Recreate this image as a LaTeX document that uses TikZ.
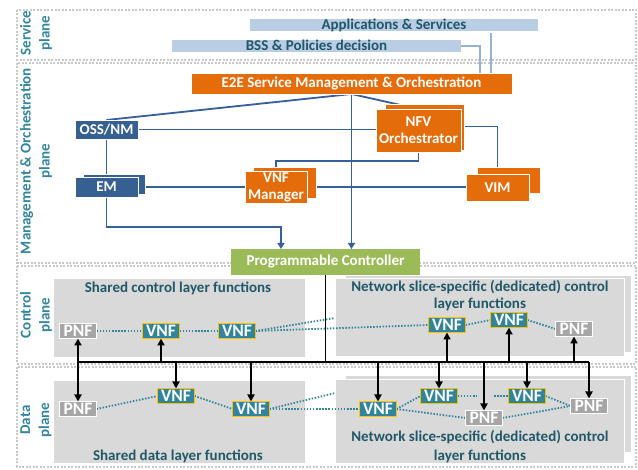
\documentclass[tikz,border=0pt]{standalone}
\usepackage{fontspec}
\setmainfont{Carlito}
\usetikzlibrary{arrows.meta,calc}
\definecolor{lblue}{HTML}{B9CDE5}
\definecolor{orng}{HTML}{E46C0A}
\definecolor{dblue}{HTML}{376092}
\definecolor{mline}{HTML}{36609C}
\definecolor{sline}{HTML}{95B3D7}
\definecolor{grn}{HTML}{9BBB59}
\definecolor{gbox}{HTML}{D9D9D9}
\definecolor{ttxt}{HTML}{215868}
\definecolor{plab}{HTML}{31859C}
\definecolor{vnff}{HTML}{31849B}
\definecolor{gold}{HTML}{FFC000}
\definecolor{pnff}{HTML}{A6A6A6}
\definecolor{frm}{HTML}{C8C8C8}
\pgfdeclarelayer{back}
\pgfdeclarelayer{mid}
\pgfsetlayers{back,mid,main}
\newcommand\bx[7]{\node[#6,minimum width={(#4-#2)*1pt},minimum height={(#5-#3)*1pt}] (#1) at ({(#2+#4)/2},{(#3+#5)/2}) {#7};}
\begin{document}
\begin{tikzpicture}[x=1pt,y=-1pt,
  every node/.style={inner sep=0pt,outer sep=0pt,font=\bfseries\fontsize{15}{18}\selectfont},
  bar/.style={fill=lblue,text=ttxt,text height=10.5pt,text depth=1.5pt},
  orb/.style={fill=orng,draw=white,line width=0.8pt,text=white,align=center,font=\bfseries\fontsize{15}{17}\selectfont},
  dbb/.style={fill=dblue,draw=white,line width=0.8pt,text=white},
  grb/.style={fill=grn,text=white},
  gry/.style={fill=gbox,draw=white,line width=0.8pt},
  fn/.style={minimum width=37pt,minimum height=15pt,line width=1.5pt,text=white,font=\bfseries\fontsize{17.5}{17.5}\selectfont},
  vnf/.style={fn,fill=vnff,draw=gold},
  pnf/.style={fn,fill=pnff,draw=white},
  ml/.style={draw=mline,line width=1.8pt},
  sl/.style={draw=sline,line width=1.4pt},
  bk/.style={draw=black,line width=1.8pt},
  tip/.style={-{Triangle[width=7pt,length=7pt]}},
  btip/.style={-{Triangle[width=7pt,length=6pt]}},
  dl/.style={draw=vnff,line width=1.8pt,dash pattern=on 1.5pt off 1.6pt},
  frame/.style={draw=frm,line width=2pt,dash pattern=on 2pt off 1.5pt},
  ttl/.style={text=ttxt,align=center,font=\bfseries\fontsize{15}{18}\selectfont},
  plane/.style={text=plab,rotate=90,align=center,font=\bfseries\fontsize{15}{19}\selectfont}]
\useasboundingbox (0,0) rectangle (638,470);

\begin{pgfonlayer}{back}
\fill[white] (0,0) rectangle (638,470);
\draw[frame] (17,10) rectangle (636,60);
\draw[frame] (17,63) rectangle (636,263);
\draw[frame] (17,266) rectangle (636,364);
\draw[frame] (17,367) rectangle (636,467);
\bx{sc}{53}{278}{305}{357}{gry}{}
\bx{rcb}{345}{275}{631}{352}{gry}{}
\bx{rc}{335}{278}{624}{356}{gry}{}
\bx{sd}{53}{380}{305}{463}{gry}{}
\bx{rdb}{345}{375}{631}{452}{gry}{}
\bx{rd}{335}{379}{624}{463}{gry}{}
\node[ttl] (tsc) at (178,288) {Shared control layer functions};
\node[ttl,font=\bfseries\fontsize{15}{17}\selectfont] (trc) at (480,296) {Network slice-specific (dedicated) control\\layer functions};
\node[ttl] (tsd) at (178,456) {Shared data layer functions};
\node[ttl,font=\bfseries\fontsize{15}{19}\selectfont] (trd) at (480,447) {Network slice-specific (dedicated) control\\layer functions};
\end{pgfonlayer}

\node[plane] (lsv) at (36,33) {Service\\plane};
\node[plane] (lmo) at (36,161) {Management \& Orchestration\\plane};
\node[plane] (lcp) at (36,315) {Control\\plane};
\node[plane] (ldp) at (36,420) {Data\\plane};

% service plane
\bx{apps}{250}{19}{538}{31}{bar}{Applications \& Services}
\bx{bss}{172}{40}{461}{52}{bar}{BSS \& Policies decision}

% management plane
\bx{e2e}{191}{73}{512}{94}{orb}{E2E Service Management \& Orchestration}
\bx{oss}{75}{120}{138}{139}{dbb}{OSS/NM}
\bx{emb}{83}{174}{145}{194}{dbb}{}
\bx{em}{75}{177}{138}{197}{dbb}{EM}
\bx{vnfmb}{253}{167}{316}{198}{orb}{}
\bx{vnfm}{245}{171}{307}{203}{orb}{VNF\\Manager}
\bx{nfvb}{385}{104}{464}{150}{orb}{}
\bx{nfv}{376}{109}{461}{152}{orb}{NFV\\Orchestrator}
\bx{vimb}{477}{167}{540}{193}{orb}{}
\bx{vim}{466}{174}{529}{201}{orb}{VIM}
\bx{pc}{231}{249}{420}{275}{grb}{Programmable Controller}

% control plane functions
\node[pnf] (pnfc1) at (78,331) {PNF};
\node[vnf] (vnfc1) at (161,331) {VNF};
\node[vnf] (vnfc2) at (237,331) {VNF};
\node[vnf] (vnfc3) at (447,325) {VNF};
\node[vnf] (vnfc4) at (509,320) {VNF};
\node[pnf] (pnfc2) at (574,329) {PNF};
% data plane functions
\node[pnf] (pnfd1) at (78,409) {PNF};
\node[vnf] (vnfd1) at (176,396) {VNF};
\node[vnf] (vnfd2) at (251,409) {VNF};
\node[vnf] (vnfd3) at (378,409) {VNF};
\node[vnf] (vnfd4) at (439,396) {VNF};
\node[pnf] (pnfd2) at (484,418) {PNF};
\node[vnf] (vnfd5) at (527,396) {VNF};
\node[pnf] (pnfd3) at (589,406) {PNF};

\coordinate (cend) at (335,318);
\coordinate (dend) at (335,393);
\coordinate (g1) at (477,396);
\coordinate (g2) at (494,396);
\coordinate (emc) at (281,227);
\coordinate (busL) at (78,362);
\coordinate (busR) at (589,362);

\begin{pgfonlayer}{mid}
% service connectors
\draw[sl] (bss.east) -| ($(e2e.north)+(128.5,0)$);
\draw[sl] ($(apps.south)+(97,2)$) -- ($(e2e.north)+(139.5,0)$);
% management connectors
\draw[ml] (e2e.south) -- (oss.north);
\draw[ml] (e2e.south) -- (nfv.north);
\draw[ml,btip] (e2e.south) -- (e2e.south |- pc.north);
\draw[ml] (oss.east) -- (nfv.west |- oss.east);
\draw[ml] (oss.south) -- (em.north);
\draw[ml] (em.east) -- (vnfm.west |- em.east);
\draw[ml] (vnfm.east) -- (vim.west |- vnfm.east);
\draw[ml] (vnfm.north) |- ($(nfv.south)+(0,9)$) -- (nfv.south);
\draw[ml] ($(nfv.east)+(0,-4)$) -| (vim.north);
\draw[ml,btip] (em.south) |- (emc) -- (emc |- pc.north);
% dotted links, control
\draw[dl] (pnfc1.east) -- (vnfc1.west);
\draw[dl] (vnfc1.east) -- (vnfc2.west);
\draw[dl] (vnfc2.east) -- (cend);
\draw[dl] (vnfc2.east) -- (vnfc3.west);
\draw[dl] (vnfc3.east) -- (vnfc4.west);
\draw[dl] (vnfc4.east) -- (pnfc2.west);
% dotted links, data
\draw[dl] (pnfd1.east) -- (vnfd1.west);
\draw[dl] (vnfd1.east) -- (vnfd2.west);
\draw[dl] (vnfd2.east) -- (dend);
\draw[dl] (vnfd2.east) -- (vnfd3.west);
\draw[dl] (vnfd3.east) -- (vnfd4.west);
\draw[dl] (vnfd3.east) -- (pnfd2.west);
\draw[dl] (vnfd4.east) -- (g1);
\draw[dl] (g2) -- (vnfd5.west);
\draw[dl] (vnfd5.east) -- (pnfd3.west);
\draw[dl] (pnfd2.east) -- (pnfd3.west);
\end{pgfonlayer}

% bus
\draw[bk] (busL) -- (busR);
\draw[bk] (pc.south) -- (pc.south |- busL);
\foreach \n in {pnfc1,vnfc1,vnfc3,vnfc4,pnfc2}
  \draw[bk,tip] (\n.south |- busL) -- (\n.south);
\foreach \n in {pnfd1,vnfd1,vnfd2,vnfd3,vnfd4,pnfd2,vnfd5,pnfd3}
  \draw[bk,tip] (\n.north |- busL) -- (\n.north);
\end{tikzpicture}
\end{document}
